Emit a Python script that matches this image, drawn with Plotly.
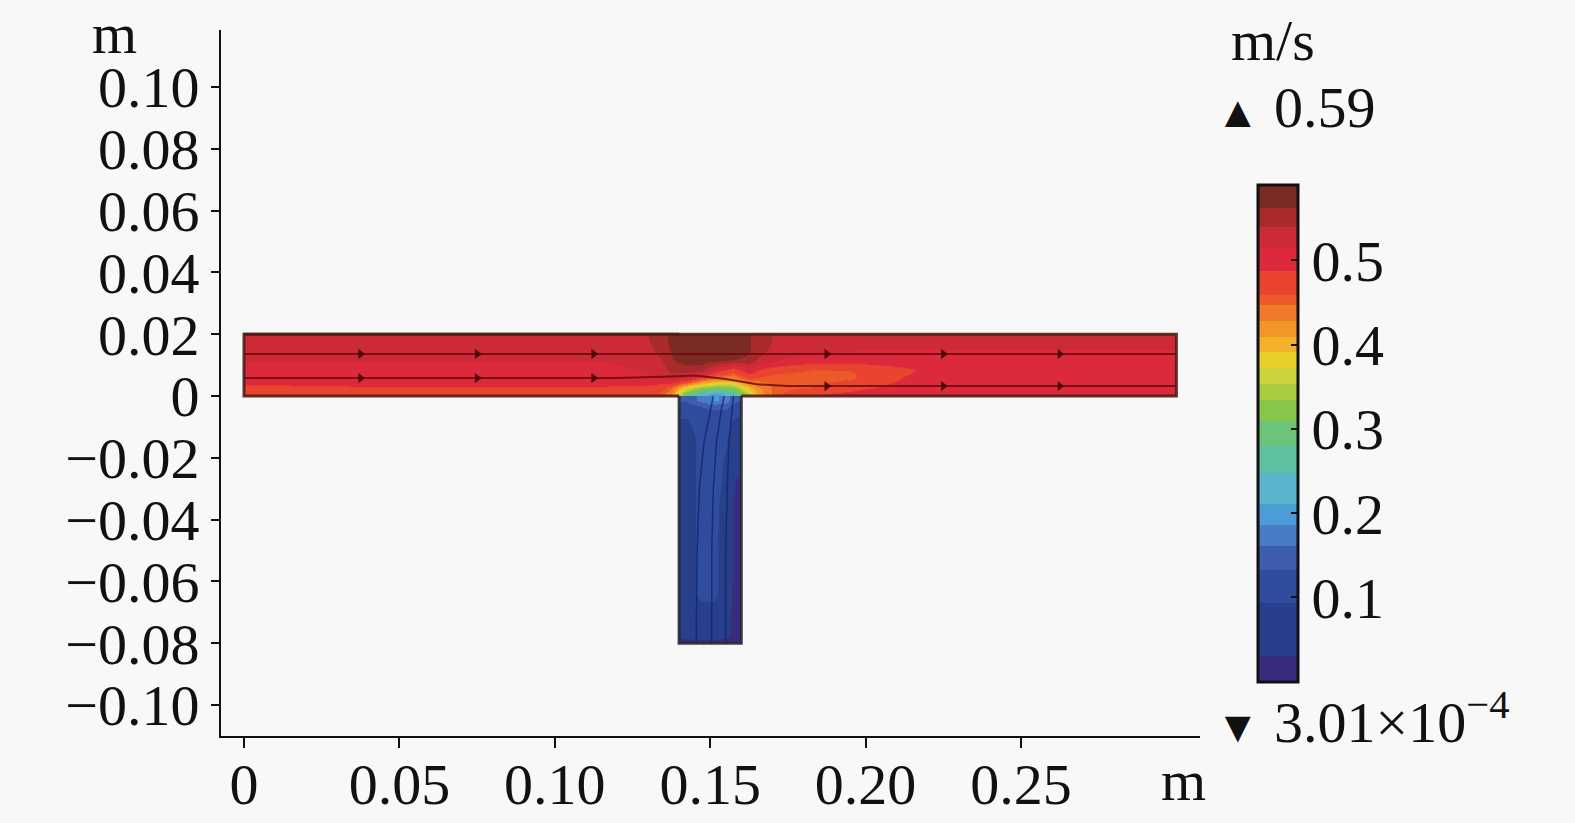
import plotly.graph_objects as go

# ---------------- data ----------------
# Main (horizontal) pipe: cell edges and velocity magnitude (m/s)
main_x_edges = [0, 0.02, 0.06, 0.10, 0.125, 0.135, 0.14, 0.145, 0.15, 0.155,
                0.16, 0.165, 0.175, 0.19, 0.205, 0.22, 0.25, 0.3]
main_y_edges = [0, 0.0015, 0.004, 0.007, 0.010, 0.013, 0.016, 0.02]
main_speed = [
    [0.475, 0.48, 0.48, 0.48, 0.47, 0.43, 0.30, 0.22, 0.20, 0.25, 0.36, 0.45, 0.48, 0.50, 0.505, 0.505, 0.505],
    [0.48, 0.485, 0.485, 0.485, 0.48, 0.45, 0.38, 0.34, 0.32, 0.33, 0.40, 0.45, 0.46, 0.48, 0.50, 0.51, 0.51],
    [0.505, 0.51, 0.51, 0.51, 0.51, 0.525, 0.51, 0.46, 0.43, 0.43, 0.46, 0.45, 0.45, 0.46, 0.49, 0.51, 0.51],
    [0.51, 0.51, 0.51, 0.51, 0.52, 0.55, 0.555, 0.55, 0.50, 0.47, 0.51, 0.47, 0.46, 0.46, 0.48, 0.51, 0.51],
    [0.515, 0.515, 0.515, 0.515, 0.525, 0.56, 0.57, 0.57, 0.565, 0.56, 0.555, 0.52, 0.50, 0.50, 0.51, 0.51, 0.51],
    [0.53, 0.53, 0.53, 0.53, 0.535, 0.565, 0.575, 0.585, 0.585, 0.575, 0.565, 0.535, 0.52, 0.515, 0.515, 0.515, 0.515],
    [0.535, 0.535, 0.535, 0.535, 0.54, 0.57, 0.58, 0.59, 0.59, 0.58, 0.565, 0.54, 0.525, 0.52, 0.52, 0.52, 0.52],
]

# Branch (vertical) pipe
branch_x_edges = [0.14, 0.1445, 0.149, 0.1535, 0.1565, 0.16]
branch_y_edges = [-0.08, -0.078, -0.05, -0.02, -0.008, -0.003, 0]
branch_speed = [
    [0.02, 0.02, 0.02, 0.015, 0.01],
    [0.08, 0.10, 0.10, 0.07, 0.012],
    [0.08, 0.10, 0.10, 0.08, 0.015],
    [0.08, 0.10, 0.11, 0.10, 0.07],
    [0.10, 0.11, 0.12, 0.12, 0.10],
    [0.14, 0.17, 0.19, 0.18, 0.14],
]

# Pipe outline
wall_main_x = [0, 0.3, 0.3, 0.16]
wall_main_y = [0.02, 0.02, 0, 0]
wall_left_x = [0.14, 0, 0, 0.14]
wall_left_y = [0, 0, 0.02, 0.02]
wall_branch_x = [0.14, 0.14, 0.16, 0.16]
wall_branch_y = [0, -0.08, -0.08, 0]

# Streamlines
s_upper_x = [0, 0.3]
s_upper_y = [0.0136, 0.0136]
s_lower_x = [0, 0.12, 0.135, 0.145, 0.155, 0.165, 0.175, 0.3]
s_lower_y = [0.0058, 0.0058, 0.0062, 0.0066, 0.0055, 0.0038, 0.0032, 0.0032]
arrow_x = [0.0375, 0.075, 0.1125, 0.0375, 0.075, 0.1125, 0.1875, 0.225, 0.2625, 0.1875, 0.225, 0.2625]
arrow_y = [0.0136, 0.0136, 0.0136, 0.0058, 0.0058, 0.0058, 0.0136, 0.0136, 0.0136, 0.0032, 0.0032, 0.0032]
br_lines_y = [-0.08, -0.05, -0.03, -0.015, -0.005, 0]
br_line_a_x = [0.1455, 0.1458, 0.1465, 0.148, 0.150, 0.151]
br_line_b_x = [0.1505, 0.1505, 0.151, 0.152, 0.1535, 0.1545]
br_line_c_x = [0.1550, 0.1550, 0.1555, 0.156, 0.157, 0.1575]

x_ticks = [0, 0.05, 0.10, 0.15, 0.20, 0.25]
x_labels = ["0", "0.05", "0.10", "0.15", "0.20", "0.25"]
y_ticks = [0.10, 0.08, 0.06, 0.04, 0.02, 0, -0.02, -0.04, -0.06, -0.08, -0.10]
y_labels = ["0.10", "0.08", "0.06", "0.04", "0.02", "0",
            "\u22120.02", "\u22120.04", "\u22120.06", "\u22120.08", "\u22120.10"]
cb_ticks = [0.1, 0.2, 0.3, 0.4, 0.5]
cb_labels = ["0.1", "0.2", "0.3", "0.4", "0.5"]
v_min, v_max = 3.01e-4, 0.59

# ---------------- styling ----------------
FONT = "Liberation Serif, Times New Roman, serif"
# stepped (banded) colour table, as in the reference colour bar
band_edges = [0, 0.0526, 0.158, 0.226, 0.274, 0.316, 0.358, 0.421, 0.474, 0.526, 0.568,
              0.600, 0.632, 0.663, 0.695, 0.726, 0.758, 0.779, 0.826, 0.874, 0.916, 0.953, 1.0]
band_colors = ["#3a2c7c", "#28408c", "#304c9c", "#3e5eac", "#4a7cc4", "#4c9cd8", "#5ab4cc",
               "#5ec0a0", "#6cc478", "#86c648", "#a8cc40", "#cad43a", "#e8d02a", "#f2b22a",
               "#f2962a", "#f07a28", "#ec5a2a", "#e8442e", "#dc2a3c", "#cc2a36", "#a82a2a", "#7b2a24"]
colorscale = []
for i, c in enumerate(band_colors):
    colorscale.append([band_edges[i], c])
    colorscale.append([band_edges[i + 1], c])

L, R, T, B = 221, 1200, 30, 736
W, H = 1575, 823
def px(x):
    return (x - L) / (R - L)
def py(y):
    return (B - y) / (B - T)

fig = go.Figure()
fig.add_trace(go.Heatmap(
    x=main_x_edges, y=main_y_edges, z=main_speed, zsmooth="best",
    colorscale=colorscale, zmin=v_min, zmax=v_max, hoverinfo="skip",
    colorbar=dict(
        x=px(1258), xanchor="left", xpad=0, ypad=0,
        y=py(433), yanchor="middle", len=497 / (B - T), lenmode="fraction",
        thickness=40, outlinewidth=3, outlinecolor="#111",
        tickvals=cb_ticks, ticktext=cb_labels, ticks="inside", ticklen=8,
        tickcolor="#111", tickwidth=2,
        tickfont=dict(family=FONT, size=58, color="#111"),
    ),
))
fig.add_trace(go.Heatmap(
    x=branch_x_edges, y=branch_y_edges, z=branch_speed, zsmooth="best",
    colorscale=colorscale, zmin=v_min, zmax=v_max, showscale=False, hoverinfo="skip",
))

def line(xs, ys, color, width):
    fig.add_trace(go.Scatter(x=xs, y=ys, mode="lines", hoverinfo="skip",
                             line=dict(color=color, width=width), showlegend=False))

# streamlines
line(s_upper_x, s_upper_y, "rgba(110,10,10,0.85)", 2)
line(s_lower_x, s_lower_y, "rgba(110,10,10,0.85)", 2)
fig.add_trace(go.Scatter(x=arrow_x, y=arrow_y, mode="markers", hoverinfo="skip", showlegend=False,
                         marker=dict(symbol="triangle-right", size=9, color="rgba(70,10,10,0.9)")))
for bx in (br_line_a_x, br_line_b_x, br_line_c_x):
    line(bx, br_lines_y, "rgba(20,35,110,0.8)", 1.5)

# walls
line(wall_main_x, wall_main_y, "rgba(80,30,20,0.9)", 3)
line(wall_left_x, wall_left_y, "rgba(80,30,20,0.9)", 3)
line(wall_branch_x, wall_branch_y, "rgba(40,40,50,0.9)", 3)

fig.update_xaxes(
    range=[(L - 244) / 3108, (R - 244) / 3108], automargin=False,
    showline=True, linecolor="#111", linewidth=2, mirror=False,
    ticks="outside", ticklen=10, tickwidth=2, tickcolor="#111",
    tickvals=x_ticks, ticktext=x_labels, showgrid=False, zeroline=False,
    ticklabelstandoff=-14,
    tickfont=dict(family=FONT, size=58, color="#111"),
)
fig.update_yaxes(
    range=[-(B - 396) / 3090, (396 - T) / 3090], automargin=False,
    showline=True, linecolor="#111", linewidth=2,
    ticks="outside", ticklen=8, tickwidth=2, tickcolor="#111",
    tickvals=y_ticks, ticktext=y_labels, showgrid=False, zeroline=False,
    tickfont=dict(family=FONT, size=58, color="#111"),
)

ann_font = dict(family=FONT, size=58, color="#111")
tri = '<span style="font-size:44px">%s</span> '
def ann(text, x, y, xanchor="center"):
    return dict(text=text, x=px(x), y=py(y), xref="paper", yref="paper",
                xanchor=xanchor, yanchor="middle", showarrow=False, font=ann_font)

fig.update_layout(
    width=W, height=H,
    margin=dict(l=L, r=W - R, t=T, b=H - B, pad=0, autoexpand=False),
    paper_bgcolor="#f8f8f8", plot_bgcolor="#f8f8f8",
    showlegend=False,
    annotations=[
        ann("m", 114, 33),
        ann("m", 1183, 780),
        ann("m/s", 1273, 40),
        ann((tri % "\u25b2") + "0.59", 1214, 108, "left"),
        ann((tri % "\u25bc") + "3.01\u00d710<sup>\u22124</sup>", 1214, 718, "left"),
    ],
)

fig.write_html("out.html", config={"displayModeBar": False},
               post_script="document.body.style.margin='0';document.body.style.overflow='hidden';")
